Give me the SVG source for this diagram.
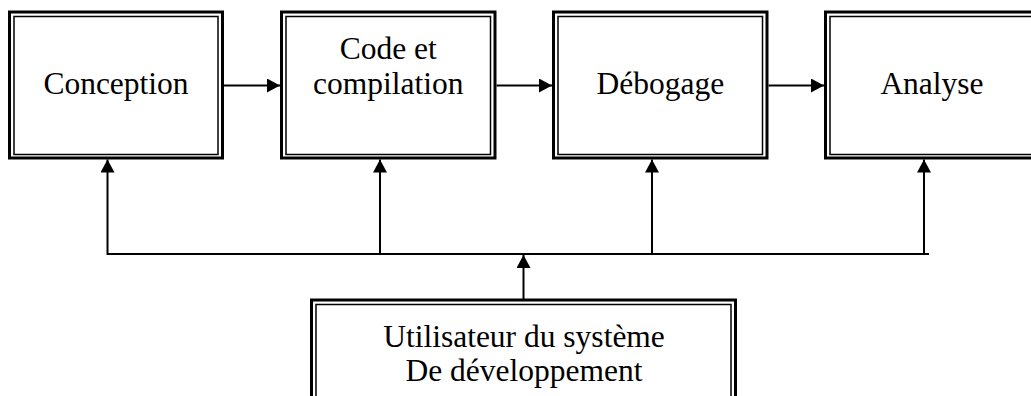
<svg xmlns="http://www.w3.org/2000/svg" width="1031" height="396" viewBox="0 0 1031 396">
<defs>
<style>
.outer{fill:none;stroke:#000;stroke-width:3}
.inner{fill:none;stroke:#000;stroke-width:1.5}
.lbl{font-family:"Liberation Serif","Times New Roman",serif;font-size:31.5px;fill:#000;text-anchor:middle}
.conn{fill:none;stroke:#000;stroke-width:2}
</style>
<marker id="arr" markerWidth="13" markerHeight="14" viewBox="0 0 13 14" refX="13" refY="7" orient="auto" markerUnits="userSpaceOnUse">
<path d="M0,0 L13,7 L0,14 Z" fill="#000"/>
</marker>
</defs>
<rect width="1031" height="396" fill="#fff"/>
<g id="node-conception">
<rect class="outer" x="9.5" y="12" width="213" height="146"/>
<rect class="inner" x="14" y="16.5" width="204" height="138"/>
<text class="lbl" x="116" y="94">Conception</text>
</g>
<g id="node-code">
<rect class="outer" x="281.5" y="12" width="213.5" height="146"/>
<rect class="inner" x="286" y="16.5" width="204.5" height="138"/>
<text class="lbl" x="388.3" y="59">Code et</text>
<text class="lbl" x="388.3" y="94">compilation</text>
</g>
<g id="node-debogage">
<rect class="outer" x="553.5" y="12" width="213.5" height="146"/>
<rect class="inner" x="558" y="16.5" width="204.5" height="138"/>
<text class="lbl" x="660.3" y="94">Débogage</text>
</g>
<g id="node-analyse">
<rect class="outer" x="825.5" y="12" width="213.5" height="146"/>
<rect class="inner" x="830" y="16.5" width="204.5" height="138"/>
<text class="lbl" x="932" y="94">Analyse</text>
</g>
<g id="node-utilisateur">
<rect class="outer" x="311.5" y="300" width="424" height="110"/>
<rect class="inner" x="316" y="304.5" width="415" height="110"/>
<text class="lbl" x="524" y="347">Utilisateur du système</text>
<text class="lbl" x="524" y="381">De développement</text>
</g>
<g id="connectors">
<line class="conn" x1="224" y1="85.5" x2="280" y2="85.5" marker-end="url(#arr)"/>
<line class="conn" x1="496.5" y1="85.5" x2="552" y2="85.5" marker-end="url(#arr)"/>
<line class="conn" x1="768.5" y1="85.5" x2="824" y2="85.5" marker-end="url(#arr)"/>
<polyline class="conn" points="929,254 107.5,254 107.5,159.5" marker-end="url(#arr)"/>
<line class="conn" x1="380" y1="254" x2="380" y2="159.5" marker-end="url(#arr)"/>
<line class="conn" x1="652" y1="254" x2="652" y2="159.5" marker-end="url(#arr)"/>
<line class="conn" x1="924" y1="254" x2="924" y2="159.5" marker-end="url(#arr)"/>
<line class="conn" x1="523.5" y1="299" x2="523.5" y2="255" marker-end="url(#arr)"/>
</g>
</svg>
